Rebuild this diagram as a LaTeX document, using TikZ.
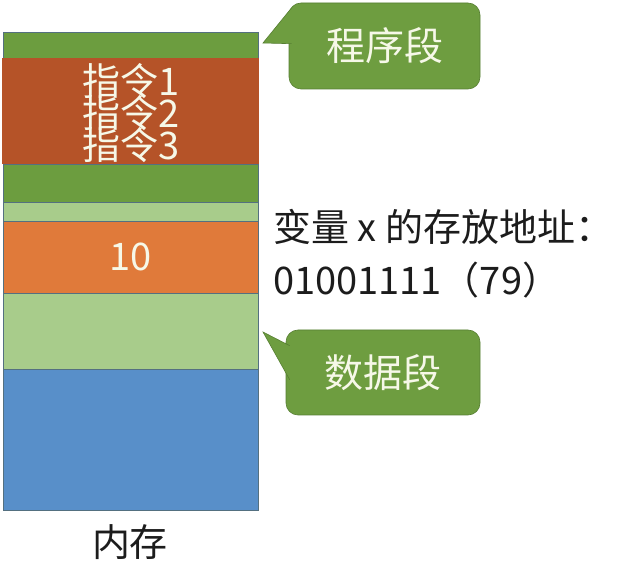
\documentclass[tikz,border=0pt]{standalone}
\usepackage{fontspec}
\setmainfont{Noto Sans CJK SC}
\usetikzlibrary{positioning}
\definecolor{segGreen}{RGB}{108,157,63}
\definecolor{instBrown}{RGB}{181,83,40}
\definecolor{dataLight}{RGB}{168,204,139}
\definecolor{valOrange}{RGB}{224,122,58}
\definecolor{freeBlue}{RGB}{88,143,201}
\definecolor{segLine}{RGB}{84,112,128}
\definecolor{noteGreen}{RGB}{110,157,64}
\definecolor{noteLine}{RGB}{86,126,50}
\definecolor{paleText}{RGB}{246,248,232}
\definecolor{darkText}{RGB}{28,28,28}

\begin{document}
\begin{tikzpicture}[x=1pt, y=-1pt, node distance=0pt]
\tikzstyle{seg}=[draw=segLine, line width=0.6pt, minimum width=255pt, inner sep=0pt, outer sep=0pt]
\tikzstyle{big}=[font=\fontsize{38}{40}\selectfont, inner sep=0pt]
\tikzstyle{note}=[fill=noteGreen, draw=noteLine, line width=0.6pt, rounded corners=12pt, text=paleText, font=\fontsize{39}{40}\selectfont]
\useasboundingbox (0,0) rectangle (622,561);
\node[seg, fill=segGreen, minimum height=26pt, anchor=north] (top) at (130.5,32) {};
\node[seg, draw=none, fill=instBrown, minimum width=257pt, minimum height=106pt, below=of top] (inst) {};
\node[big, text=paleText, anchor=base] (i1) at (131,96)  {指令1};
\node[big, text=paleText, anchor=base] (i2) at (131,128) {指令2};
\node[big, text=paleText, anchor=base] (i3) at (131,160) {指令3};
\node[seg, fill=segGreen, minimum height=38pt, below=of inst]  (low) {};
\node[seg, fill=dataLight, minimum height=19pt, below=of low]  (gap) {};
\node[seg, fill=valOrange, minimum height=72pt, below=of gap]  (val) {};
\node[big, text=paleText] (ten) at (val) {10};
\node[seg, fill=dataLight, minimum height=76pt, below=of val]  (data) {};
\node[seg, fill=freeBlue, minimum height=141pt, below=of data] (free) {};
\node[big, text=darkText] (mem) at (130,542) {内存};
\node[note, minimum width=191pt, minimum height=86pt] (codeNote) at (384.5,46) {程序段};
\coordinate (codeTip) at (263,43);
\fill[noteGreen] ([xshift=3pt,yshift=-5pt]codeNote.north west) -- (codeTip) -- ([xshift=3pt,yshift=-41pt]codeNote.north west) -- cycle;
\draw[noteLine, line width=0.6pt] ([xshift=3pt,yshift=-5pt]codeNote.north west) -- (codeTip) -- ([xshift=3pt,yshift=-41pt]codeNote.north west);
\node[note, minimum width=194pt, minimum height=85pt] (dataNote) at (383,372.5) {数据段};
\coordinate (dataTip) at (263,332);
\fill[noteGreen] ([xshift=4pt,yshift=-16pt]dataNote.north west) -- (dataTip) -- ([xshift=4pt,yshift=-50pt]dataNote.north west) -- cycle;
\draw[noteLine, line width=0.6pt] ([xshift=4pt,yshift=-16pt]dataNote.north west) -- (dataTip) -- ([xshift=4pt,yshift=-50pt]dataNote.north west);
\node[big, text=darkText, anchor=base west] (addr) at (273,242) {变量 x 的存放地址：};
\node[big, text=darkText, anchor=base west] (addrVal) at (273,295) {01001111（79）};
\end{tikzpicture}
\end{document}
